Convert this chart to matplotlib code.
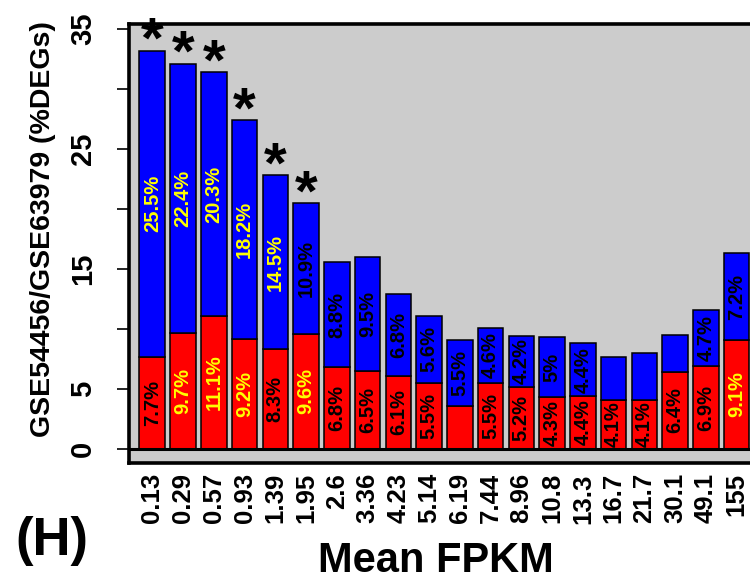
import matplotlib
matplotlib.use("Agg")
import matplotlib.pyplot as plt

# mean FPKM bins and % DEGs (red = lower part, blue = upper part)
bins = ['0.13', '0.29', '0.57', '0.93', '1.39', '1.95', '2.6', '3.36', '4.23', '5.14',
        '6.19', '7.44', '8.96', '10.8', '13.3', '16.7', '21.7', '30.1', '49.1', '155']
red = [7.7, 9.7, 11.1, 9.2, 8.3, 9.6, 6.8, 6.5, 6.1, 5.5,
       3.6, 5.5, 5.2, 4.3, 4.4, 4.1, 4.1, 6.4, 6.9, 9.1]
blue = [25.5, 22.4, 20.3, 18.2, 14.5, 10.9, 8.8, 9.5, 6.8, 5.6,
        5.5, 4.6, 4.2, 5.0, 4.4, 3.6, 3.9, 3.1, 4.7, 7.2]
red_labels = ['7.7%', '9.7%', '11.1%', '9.2%', '8.3%', '9.6%', '6.8%', '6.5%', '6.1%', '5.5%',
              '', '5.5%', '5.2%', '4.3%', '4.4%', '4.1%', '4.1%', '6.4%', '6.9%', '9.1%']
blue_labels = ['25.5%', '22.4%', '20.3%', '18.2%', '14.5%', '10.9%', '8.8%', '9.5%', '6.8%', '5.6%',
               '5.5%', '4.6%', '4.2%', '5%', '4.4%', '', '', '', '4.7%', '7.2%']
red_label_col = ['k', 'y', 'y', 'y', 'k', 'y', 'k', 'k', 'k', 'k',
                 'k', 'k', 'k', 'k', 'k', 'k', 'k', 'k', 'k', 'y']
blue_label_col = ['y', 'y', 'y', 'y', 'y', 'k', 'k', 'k', 'k', 'k',
                  'k', 'k', 'k', 'k', 'k', 'k', 'k', 'k', 'k', 'k']
starred = [True] * 6 + [False] * 14

yticks = [0, 5, 10, 15, 20, 25, 30, 35]
ytick_labels = ['0', '5', '', '15', '', '25', '', '35']

plt.rcParams['font.family'] = ['Liberation Sans', 'DejaVu Sans']
plt.rcParams['font.weight'] = 'bold'

colmap = {'k': 'black', 'y': '#ffff00'}

fig = plt.figure(figsize=(7.5, 5.8), dpi=100)
ax = fig.add_axes([0.172, 0.2009, 0.8413, 0.7578])
ax.set_facecolor('#cccccc')

x = list(range(len(bins)))
tops = [r + b for r, b in zip(red, blue)]

ax.bar(x, red, width=0.832, color='#ff0000', edgecolor='black', linewidth=1.1, zorder=2)
ax.bar(x, blue, bottom=red, width=0.832, color='#0000ff', edgecolor='black', linewidth=1.1, zorder=2)
ax.axhline(0, color='black', lw=2.2, zorder=3)

# percentages inside the segments
for i in x:
    if red_labels[i]:
        ax.text(i, red[i] / 2, red_labels[i], rotation=90, ha='center', va='center',
                fontsize=14.5, color=colmap[red_label_col[i]], zorder=4)
    if blue_labels[i]:
        ax.text(i, red[i] + blue[i] / 2, blue_labels[i], rotation=90, ha='center', va='center',
                fontsize=14.5, color=colmap[blue_label_col[i]], zorder=4)
    if starred[i]:
        ax.text(i, tops[i] - 0.6, '*', ha='center', va='baseline', fontsize=42, zorder=4)

ax.set_xlim(-0.757, 19.757)
ax.set_ylim(-1.21, 35.42)

ax.set_yticks(yticks)
ax.set_yticklabels(ytick_labels, rotation=90, va='center', fontsize=21)
ax.tick_params(axis='y', length=9, width=1.2, pad=14)
ax.set_xticks(x)
ax.set_xticklabels(bins, rotation=90, va='top', ha='center', fontsize=18.5)
ax.tick_params(axis='x', length=0, pad=7)

for s in ax.spines.values():
    s.set_linewidth(2.6)

fig.text(43 / 750, 0.605, 'GSE54456/GSE63979 (%DEGs)', rotation=90, ha='center', va='center',
         fontsize=20.5)
fig.text(436 / 750, 8 / 580, 'Mean FPKM', ha='center', va='baseline', fontsize=30)
fig.text(15 / 750, 25 / 580, '(H)', ha='left', va='baseline', fontsize=38)

fig.savefig('out.png', dpi=100)
